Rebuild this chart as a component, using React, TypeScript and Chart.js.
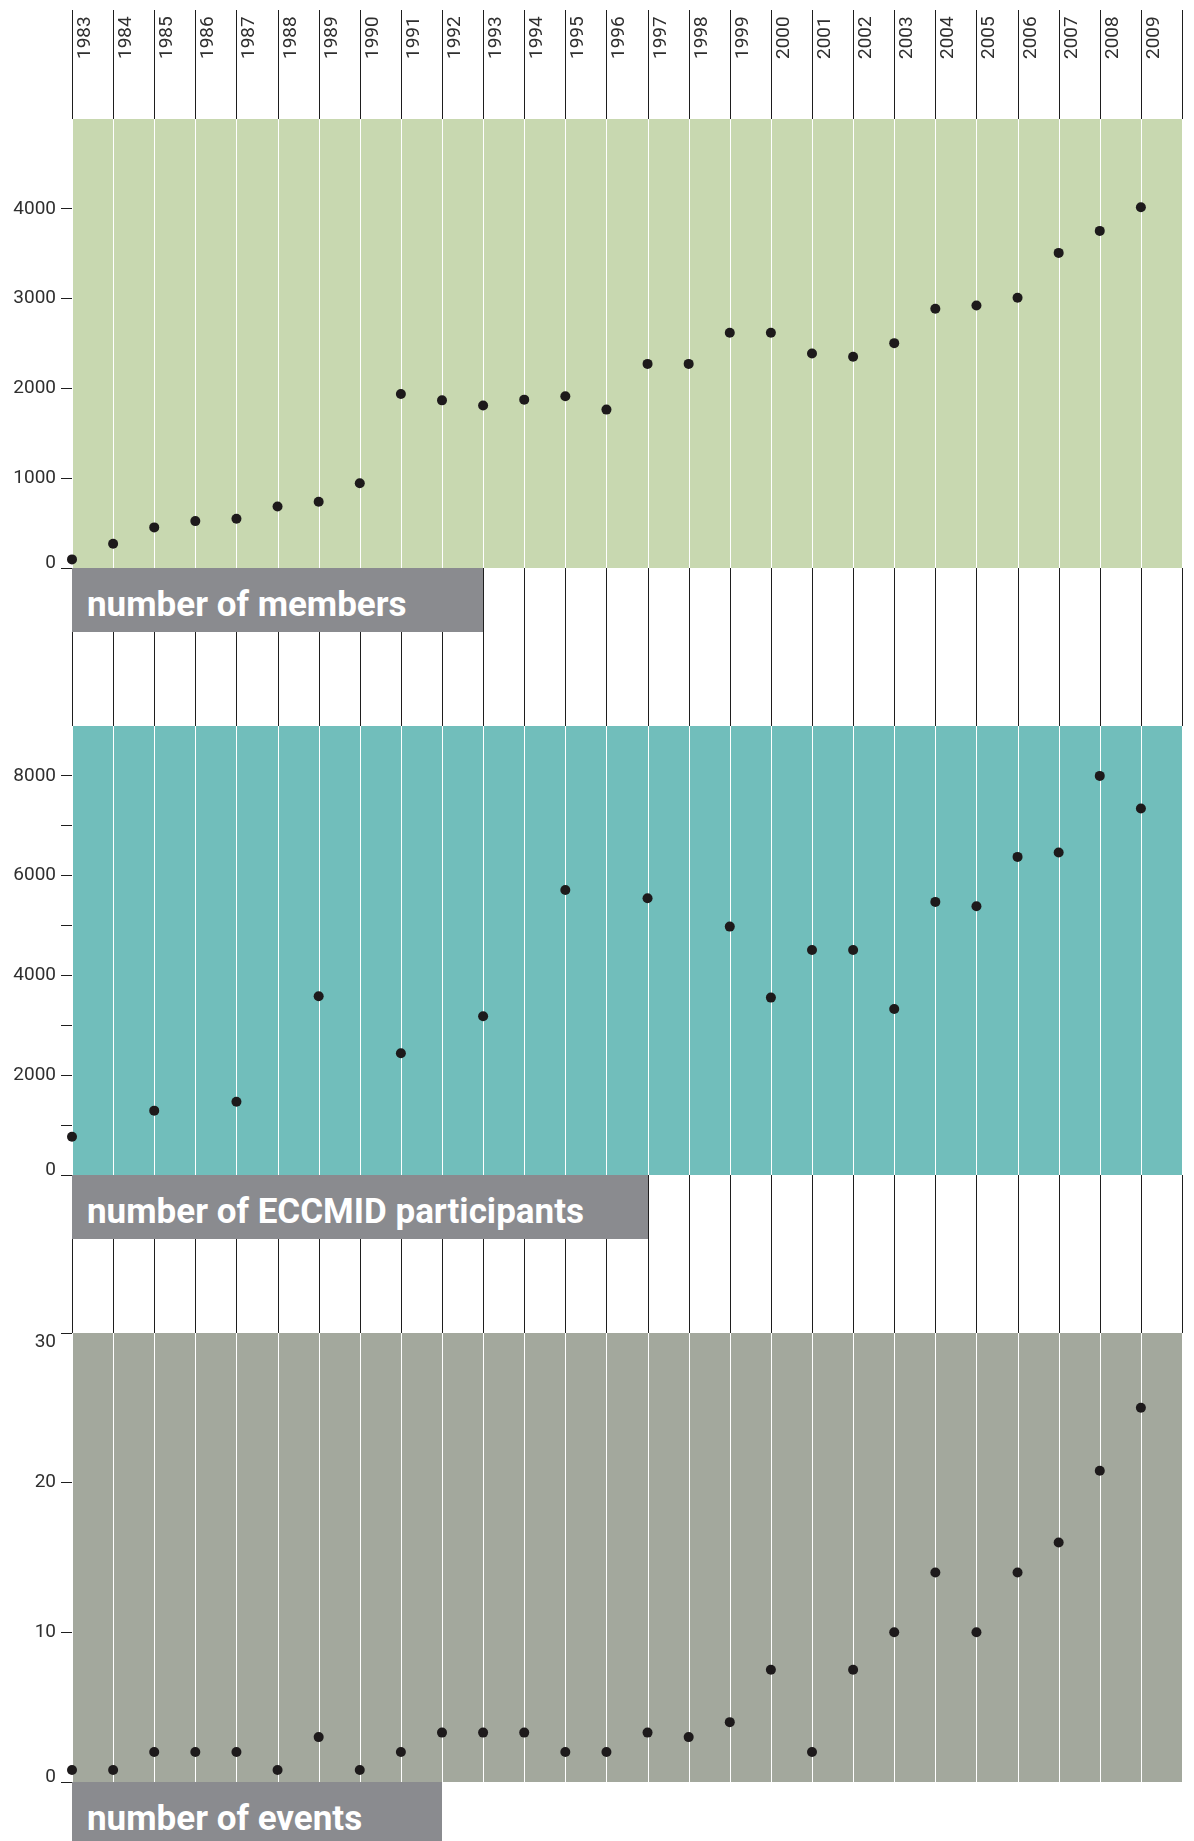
import React, { useEffect, useRef } from 'react';
import { Chart, registerables } from 'chart.js';

Chart.register(...registerables);

// ---------- data ----------
const years = [
  1983, 1984, 1985, 1986, 1987, 1988, 1989, 1990, 1991, 1992, 1993, 1994, 1995, 1996,
  1997, 1998, 1999, 2000, 2001, 2002, 2003, 2004, 2005, 2006, 2007, 2008, 2009,
];

const members = [
  96, 270, 452, 522, 548, 685, 737, 944, 1937, 1867, 1810, 1875, 1913, 1764,
  2273, 2273, 2619, 2619, 2389, 2352, 2504, 2887, 2924, 3010, 3509, 3754, 4018,
];

const participants: (number | null)[] = [
  768, null, 1290, null, 1470, null, 3583, null, 2440, null, 3182, null, 5714, null,
  5547, null, 4979, 3556, 4511, 4511, 3328, 5474, 5387, 6376, 6463, 8000, 7345,
];

const events = [
  0.8, 0.8, 2, 2, 2, 0.8, 3, 0.8, 2, 3.3, 3.3, 3.3, 2, 2,
  3.3, 3, 4, 7.5, 2, 7.5, 10, 14, 10, 14, 16, 20.8, 25,
];

const memberTickLabels = [0, 1000, 2000, 3000, 4000];
const participantTickLabels = [0, 2000, 4000, 6000, 8000];
const eventTickLabels = [0, 10, 20, 30];

const titles = ['number of members', 'number of ECCMID participants', 'number of events'];

// ---------- layout ----------
const W = 1194;
const H = 1841;
const PLOT_LEFT = 72;
const RIGHT_PAD = 12;
const LINE_TOP = 10;
const CAT_W = (W - RIGHT_PAD - PLOT_LEFT) / 27;
const FONT = 'Roboto, "Liberation Sans", Arial, sans-serif';
const TEXT = '#2f2f2f';
const LINE = '#1e1e1e';
const DOT = '#1d1a1b';

const panels = [
  { top: 119, bottom: 568, gapBelow: 158, color: '#c8d8b0', max: 5000, step: 1000, data: members as (number | null)[], labels: memberTickLabels, boxCats: 10, boxH: 64 },
  { top: 726, bottom: 1175, gapBelow: 158, color: '#71bebb', max: 9000, step: 1000, data: participants, labels: participantTickLabels, boxCats: 14, boxH: 64 },
  { top: 1333, bottom: 1782, gapBelow: 0, color: '#a3a89d', max: 30, step: 10, data: events as (number | null)[], labels: eventTickLabels, boxCats: 9, boxH: 59 },
];

const bandPlugin = {
  id: 'bands',
  beforeDraw(chart: any, _args: any, opts: any) {
    const { ctx, chartArea } = chart;
    const xs = chart.scales.x;
    const xsPix: number[] = [];
    for (let v = xs.min; v <= xs.max; v += 1) {
      xsPix.push(Math.round(xs.getPixelForValue(v)) + 0.5);
    }
    ctx.save();
    ctx.lineWidth = 1;
    ctx.strokeStyle = LINE;
    ctx.beginPath();
    for (const x of xsPix) {
      if (opts.linesTop != null) {
        ctx.moveTo(x, opts.linesTop);
        ctx.lineTo(x, chartArea.top);
      }
      if (opts.gapBelow) {
        ctx.moveTo(x, chartArea.bottom);
        ctx.lineTo(x, chartArea.bottom + opts.gapBelow);
      }
    }
    ctx.stroke();
    ctx.fillStyle = opts.color;
    ctx.fillRect(chartArea.left, chartArea.top, chartArea.right - chartArea.left, chartArea.bottom - chartArea.top);
    ctx.strokeStyle = '#ffffff';
    ctx.beginPath();
    for (const x of xsPix) {
      ctx.moveTo(x, chartArea.top);
      ctx.lineTo(x, chartArea.bottom);
    }
    ctx.stroke();
    ctx.restore();
  },
};

function makeConfig(idx: number): any {
  const p = panels[idx];
  const isFirst = idx === 0;
  const xScale: any = {
    type: 'linear',
    position: 'top',
    min: years[0],
    max: years[years.length - 1] + 1,
    display: isFirst,
    grid: {
      display: true,
      drawOnChartArea: false,
      drawTicks: true,
      tickLength: 60,
      tickColor: 'rgba(0,0,0,0)',
      color: 'rgba(0,0,0,0)',
    },
    border: { display: false },
    ticks: {
      stepSize: 1,
      autoSkip: false,
      minRotation: 90,
      maxRotation: 90,
      padding: 0,
      labelOffset: 36,
      color: TEXT,
      font: { family: FONT, size: 19 },
      callback: (v: number) => (years.includes(v) ? String(v) : ''),
    },
  };
  if (isFirst) {
    xScale.afterFit = (s: any) => {
      s.height = p.top;
    };
  }
  return {
    type: 'scatter',
    data: {
      datasets: [
        {
          data: years
            .map((yr, i) => ({ x: yr, y: p.data[i] }))
            .filter((d) => d.y !== null),
          pointRadius: 5,
          pointHoverRadius: 5,
          backgroundColor: DOT,
          borderWidth: 0,
          clip: false,
        },
      ],
    },
    options: {
      responsive: false,
      maintainAspectRatio: false,
      animation: false,
      devicePixelRatio: 1,
      events: [],
      layout: {
        padding: {
          left: 0,
          right: RIGHT_PAD,
          top: isFirst ? 0 : p.top,
          bottom: H - p.bottom,
        },
      },
      plugins: {
        legend: { display: false },
        tooltip: { enabled: false },
        bands: { color: p.color, gapBelow: p.gapBelow, linesTop: isFirst ? LINE_TOP : null },
      },
      scales: {
        x: xScale,
        y: {
          type: 'linear',
          position: 'left',
          min: 0,
          max: p.max,
          afterFit: (s: any) => {
            s.width = PLOT_LEFT;
          },
          grid: {
            drawOnChartArea: false,
            drawTicks: true,
            tickLength: 11,
            lineWidth: 1,
            tickColor: (c: any) =>
              c.tick && c.tick.value === p.max && !p.labels.includes(p.max) ? 'rgba(0,0,0,0)' : LINE,
          },
          border: { display: false },
          ticks: {
            stepSize: p.step,
            autoSkip: false,
            padding: 5,
            color: TEXT,
            font: (c: any) => {
              const v = c.tick ? c.tick.value : null;
              if (v === 0) return { family: FONT, size: 19, lineHeight: 0.5 };
              if (v === p.max) return { family: FONT, size: 19, lineHeight: 1.0 };
              return { family: FONT, size: 19 };
            },
            callback: (v: number) => {
              if (!p.labels.includes(v)) return '';
              if (v === 0) return ['0', ''];
              if (v === p.max) return ['', String(v)];
              return String(v);
            },
          },
        },
      },
    },
    plugins: [bandPlugin],
  };
}

export default function App() {
  const r0 = useRef<HTMLCanvasElement>(null);
  const r1 = useRef<HTMLCanvasElement>(null);
  const r2 = useRef<HTMLCanvasElement>(null);

  useEffect(() => {
    const refs = [r0, r1, r2];
    const charts = refs.map((r, i) => new Chart(r.current as HTMLCanvasElement, makeConfig(i)));
    return () => charts.forEach((c) => c.destroy());
  }, []);

  const canvasStyle: React.CSSProperties = {
    position: 'absolute',
    left: 0,
    top: 0,
    width: W,
    height: H,
    display: 'block',
  };

  return (
    <div style={{ position: 'absolute', left: 0, top: 0, width: W, height: H, background: '#ffffff', overflow: 'hidden' }}>
      <canvas ref={r0} width={W} height={H} style={canvasStyle} />
      <canvas ref={r1} width={W} height={H} style={canvasStyle} />
      <canvas ref={r2} width={W} height={H} style={canvasStyle} />
      {panels.map((p, i) => (
        <div
          key={i}
          style={{
            position: 'absolute',
            left: PLOT_LEFT,
            top: p.bottom,
            width: Math.round(CAT_W * p.boxCats),
            height: p.boxH,
            background: '#8a8b8f',
            zIndex: 2,
          }}
        >
          <span
            style={{
              position: 'absolute',
              left: 15,
              top: 19,
              lineHeight: '35px',
              fontSize: 35,
              fontFamily: FONT,
              fontWeight: 700,
              color: '#ffffff',
              whiteSpace: 'nowrap',
            }}
          >
            {titles[i]}
          </span>
        </div>
      ))}
    </div>
  );
}
